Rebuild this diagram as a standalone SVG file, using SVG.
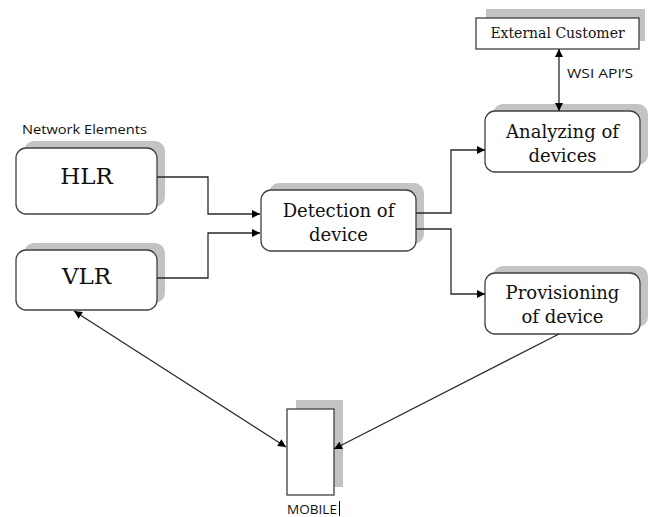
<svg xmlns="http://www.w3.org/2000/svg" width="654" height="517" viewBox="0 0 654 517">
<style>
.shadow{fill:#c3c3c3;stroke:none}
.box{fill:#fff;stroke:#404040;stroke-width:1.3}
.serif{font-family:"DejaVu Serif","Liberation Serif",serif;fill:#111;text-anchor:middle}
.sans{font-family:"Open Sans","Liberation Sans",sans-serif;fill:#111}
.conn{fill:none;stroke:#2a2a2a;stroke-width:1.3}
</style>
<defs>
<marker id="arr" viewBox="0 0 10 10" refX="10" refY="5" markerWidth="9" markerHeight="8" markerUnits="userSpaceOnUse" orient="auto-start-reverse">
<path d="M0,0 L10,5 L0,10 Z" fill="#000"/>
</marker>
</defs>
<rect width="654" height="517" fill="#fff"/>

<text class="sans" x="22" y="134" font-size="13.5" textLength="125" lengthAdjust="spacingAndGlyphs">Network Elements</text>

<g id="external">
<rect class="shadow" x="486" y="9" width="159" height="32"/>
<rect class="box" x="476" y="18" width="163" height="31"/>
<text class="serif" x="557.5" y="38" font-size="14">External Customer</text>
</g>

<g id="hlr">
<rect class="shadow" x="24" y="141" width="141" height="66" rx="10"/>
<rect class="box" x="16" y="148" width="141" height="66" rx="10"/>
<text class="serif" x="86.5" y="184" font-size="23">HLR</text>
</g>

<g id="vlr">
<rect class="shadow" x="24" y="243" width="141" height="60" rx="10"/>
<rect class="box" x="16" y="250" width="141" height="60" rx="10"/>
<text class="serif" x="86.5" y="284" font-size="23">VLR</text>
</g>

<g id="detection">
<rect class="shadow" x="269" y="183" width="155" height="61" rx="10"/>
<rect class="box" x="261" y="190" width="155" height="61" rx="10"/>
<text class="serif" x="338.5" y="217" font-size="18">Detection of</text>
<text class="serif" x="338.5" y="241" font-size="18">device</text>
</g>

<g id="analyzing">
<rect class="shadow" x="493" y="104" width="155" height="61" rx="10"/>
<rect class="box" x="485" y="111" width="155" height="61" rx="10"/>
<text class="serif" x="562.5" y="138" font-size="18">Analyzing of</text>
<text class="serif" x="562.5" y="162" font-size="18">devices</text>
</g>

<g id="provisioning">
<rect class="shadow" x="493" y="266" width="155" height="61" rx="10"/>
<rect class="box" x="485" y="273" width="155" height="61" rx="10"/>
<text class="serif" x="562.5" y="299" font-size="18">Provisioning</text>
<text class="serif" x="562.5" y="323" font-size="18">of device</text>
</g>

<g id="mobile">
<rect class="shadow" x="296" y="400" width="47" height="87"/>
<rect class="box" x="287" y="409" width="47" height="86" stroke="#111"/>
<text class="sans" x="287" y="514" font-size="13" textLength="50" lengthAdjust="spacingAndGlyphs" fill="#1f3a6a">MOBILE</text>
<line x1="339.5" y1="501" x2="339.5" y2="516" stroke="#000" stroke-width="1"/>
</g>

<g id="connectors">
<path class="conn" d="M157,177 H208 V214 H260" marker-end="url(#arr)"/>
<path class="conn" d="M157,278 H208 V233 H260" marker-end="url(#arr)"/>
<path class="conn" d="M416,213 H451 V150 H485" marker-end="url(#arr)"/>
<path class="conn" d="M416,229 H451 V294 H485" marker-end="url(#arr)"/>
<path class="conn" d="M559,49 V111" marker-start="url(#arr)" marker-end="url(#arr)"/>
<path class="conn" d="M74,311 L286,447" marker-start="url(#arr)" marker-end="url(#arr)"/>
<path class="conn" d="M559,334 L334,449" marker-end="url(#arr)"/>
<text class="sans" x="567" y="78" font-size="13" textLength="66" lengthAdjust="spacingAndGlyphs">WSI API’S</text>
</g>
</svg>
